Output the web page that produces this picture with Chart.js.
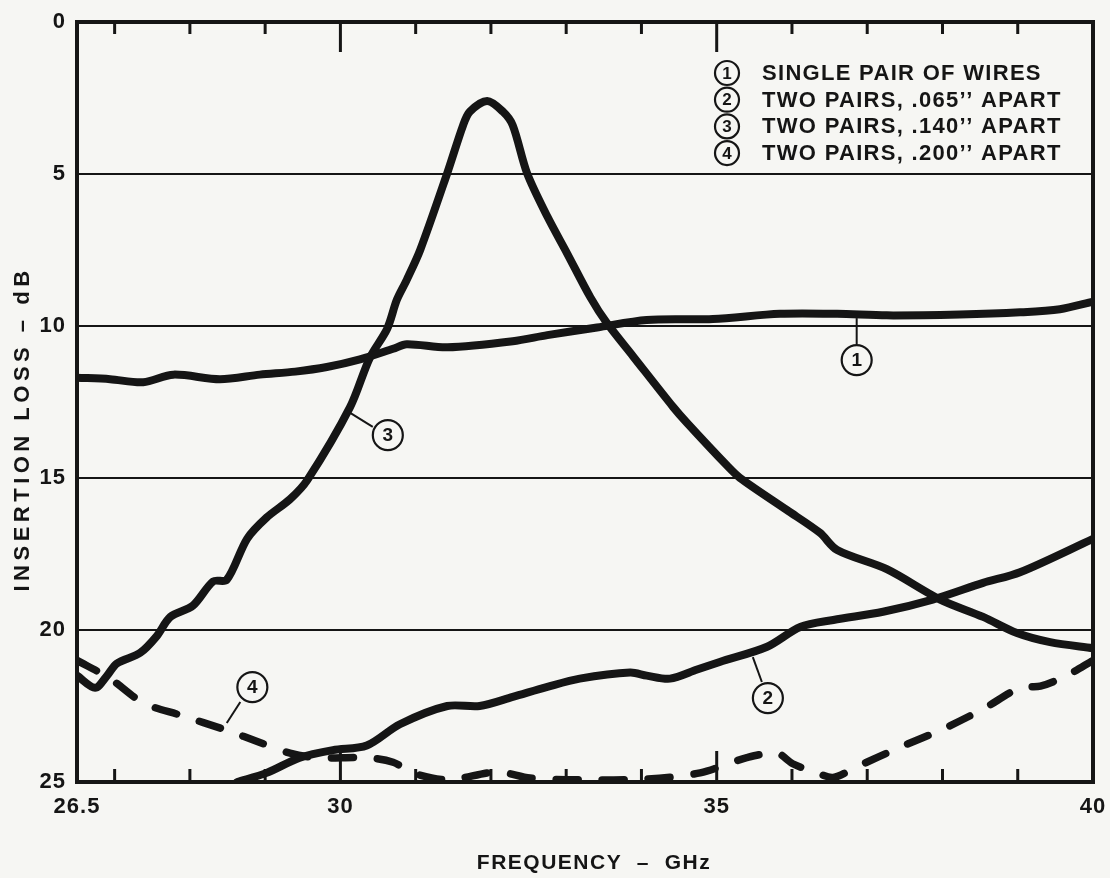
<!DOCTYPE html>
<html><head><meta charset="utf-8">
<script src="https://cdn.jsdelivr.net/npm/chart.js@4.4.1/dist/chart.umd.min.js"></script>
<style>html,body{margin:0;padding:0;background:#f6f6f3;} canvas{display:block;}</style>
</head><body>
<canvas id="c" width="1110" height="878"></canvas>
<script>
// ---- data ----
const freq1 = [26.5, 26.94, 27.38, 27.78, 28.4, 28.93, 29.4, 29.82, 30.26, 30.7, 30.88, 31.42, 32.29, 32.75, 33.41, 34.07, 34.95, 35.84, 36.6, 37.26, 38.23, 39.03, 39.56, 40];
const loss1 = [11.7, 11.75, 11.85, 11.6, 11.75, 11.6, 11.5, 11.35, 11.1, 10.75, 10.6, 10.7, 10.5, 10.3, 10.05, 9.8, 9.77, 9.6, 9.6, 9.65, 9.62, 9.55, 9.45, 9.2];

const freq2 = [28.63, 29.02, 29.46, 29.9, 30.35, 30.79, 31.42, 31.85, 32.29, 32.75, 33.18, 33.85, 34.07, 34.38, 34.74, 35.04, 35.67, 36.11, 36.55, 37.21, 37.87, 38.54, 39.03, 40];
const loss2 = [25.0, 24.7, 24.2, 23.95, 23.8, 23.1, 22.5, 22.5, 22.2, 21.87, 21.6, 21.4, 21.5, 21.6, 21.3, 21.05, 20.55, 19.9, 19.67, 19.4, 19.0, 18.45, 18.1, 17.0];

const freq3 = [26.5, 26.74, 26.9, 27.03, 27.34, 27.56, 27.74, 28.04, 28.31, 28.49, 28.76, 29.02, 29.33, 29.56, 30.13, 30.39, 30.62, 30.75, 30.88, 31.06, 31.42, 31.63, 31.72, 31.95, 32.16, 32.29, 32.48, 32.75, 33.01, 33.32, 33.54, 33.89, 34.42, 34.61, 35.14, 35.31, 35.93, 36.37, 36.6, 37.26, 37.97, 38.54, 38.99, 39.43, 40];
const loss3 = [21.5, 21.9, 21.5, 21.1, 20.75, 20.2, 19.57, 19.2, 18.4, 18.35, 17.0, 16.3, 15.7, 15.07, 12.66, 11.05, 10.1, 9.14, 8.49, 7.5, 4.97, 3.4, 2.95, 2.6, 2.95, 3.4, 4.97, 6.4, 7.6, 9.05, 9.9, 11.0, 12.66, 13.2, 14.6, 15.0, 16.05, 16.8, 17.37, 18.0, 19.0, 19.57, 20.1, 20.4, 20.6];

const freq4 = [26.5, 26.94, 27.38, 27.87, 28.49, 28.93, 29.33, 29.69, 30.35, 30.7, 30.96, 31.42, 32.08, 32.52, 33.18, 34.07, 34.78, 35.4, 35.8, 36.01, 36.33, 36.55, 36.86, 37.44, 37.97, 38.54, 39.03, 39.3, 39.65, 40];
const loss4 = [21.0, 21.6, 22.4, 22.8, 23.3, 23.7, 24.05, 24.2, 24.2, 24.35, 24.7, 24.93, 24.67, 24.87, 24.93, 24.9, 24.7, 24.2, 24.05, 24.4, 24.7, 24.85, 24.5, 23.85, 23.3, 22.6, 21.9, 21.85, 21.5, 21.0];

const xTickLabels = [26.5, 30, 35, 40];
const yTickLabels = [0, 5, 10, 15, 20, 25];
const xMinorTicks = [27, 28, 29, 31, 32, 33, 34, 36, 37, 38, 39];
const xMajorTicks = [30, 35];
const seriesNumbers = ['1', '2', '3', '4'];
const legendLabels = ['SINGLE PAIR OF WIRES', 'TWO PAIRS, .065\u2019\u2019 APART', 'TWO PAIRS, .140\u2019\u2019 APART', 'TWO PAIRS, .200\u2019\u2019 APART'];
const xTitle = 'FREQUENCY  \u2013  GHz';
const yTitle = 'INSERTION LOSS \u2013 dB';

// ---- styling ----
const INK = '#151515';
const BG = '#f6f6f3';
const FONT = '"Liberation Sans", Arial, Helvetica, sans-serif';

function pts(xs, ys) { return xs.map((x, i) => ({ x: x, y: ys[i] })); }

// callout positions (data coordinates): circle centre, leader line from->to
const callouts = [
  { n: '1', cx: 36.86, cy: 11.12, lx1: 36.86, ly1: 9.74, lx2: 36.86, ly2: 10.6 },
  { n: '2', cx: 35.68, cy: 22.24, lx1: 35.48, ly1: 20.89, lx2: 35.6, ly2: 21.71 },
  { n: '3', cx: 30.63, cy: 13.59, lx1: 30.13, ly1: 12.86, lx2: 30.43, ly2: 13.32 },
  { n: '4', cx: 28.83, cy: 21.88, lx1: 28.49, ly1: 23.06, lx2: 28.67, ly2: 22.37 }
];

function spaced(ctx, px) { if ('letterSpacing' in ctx) ctx.letterSpacing = px + 'px'; }

const framePlugin = {
  id: 'frame',
  beforeDraw(chart) {
    const ctx = chart.ctx;
    ctx.fillStyle = BG;
    ctx.fillRect(0, 0, chart.width, chart.height);
    spaced(ctx, 1); // tick label spacing
  },
  beforeDatasetsDraw(chart) {
    const { ctx, chartArea: a, scales: { x } } = chart;
    ctx.save();
    ctx.strokeStyle = INK;
    ctx.lineWidth = 3;
    const seg = (x1, y1, x2, y2) => { ctx.beginPath(); ctx.moveTo(x1, y1); ctx.lineTo(x2, y2); ctx.stroke(); };
    for (const v of xMinorTicks) {
      const px = x.getPixelForValue(v);
      seg(px, a.top, px, a.top + 12);
      seg(px, a.bottom, px, a.bottom - 13);
    }
    for (const v of xMajorTicks) {
      const px = x.getPixelForValue(v);
      seg(px, a.top, px, a.top + 30);
      seg(px, a.bottom, px, a.bottom - 31);
    }
    ctx.restore();
  },
  afterDatasetsDraw(chart) {
    const { ctx, chartArea: a, scales: { x, y } } = chart;
    ctx.save();
    ctx.strokeStyle = INK;
    ctx.lineWidth = 4;
    ctx.strokeRect(a.left, a.top, a.right - a.left, a.bottom - a.top);

    const circ = (cx, cy, r, label, fs) => {
      ctx.beginPath();
      ctx.arc(cx, cy, r, 0, Math.PI * 2);
      ctx.fillStyle = BG;
      ctx.fill();
      ctx.lineWidth = 2.2;
      ctx.strokeStyle = INK;
      ctx.stroke();
      ctx.fillStyle = INK;
      spaced(ctx, 0);
      ctx.font = 'bold ' + fs + 'px ' + FONT;
      ctx.textAlign = 'center';
      ctx.textBaseline = 'middle';
      ctx.fillText(label, cx, cy + 1);
    };
    // callouts
    for (const c of callouts) {
      ctx.lineWidth = 2;
      ctx.strokeStyle = INK;
      ctx.beginPath();
      ctx.moveTo(x.getPixelForValue(c.lx1), y.getPixelForValue(c.ly1));
      ctx.lineTo(x.getPixelForValue(c.lx2), y.getPixelForValue(c.ly2));
      ctx.stroke();
      circ(x.getPixelForValue(c.cx), y.getPixelForValue(c.cy), 15, c.n, 19);
    }
    // legend
    const lx = a.left + 650, tx = a.left + 685, ty0 = a.top + 51, dy = 26.7;
    legendLabels.forEach((t, i) => {
      const yy = ty0 + i * dy;
      circ(lx, yy, 12, seriesNumbers[i], 17);
      ctx.fillStyle = INK;
      spaced(ctx, 1.3);
      ctx.font = 'bold 22px ' + FONT;
      ctx.textAlign = 'left';
      ctx.textBaseline = 'middle';
      ctx.fillText(t, tx, yy + 1);
    });

    // axis titles
    ctx.fillStyle = INK;
    ctx.textAlign = 'center';
    ctx.textBaseline = 'middle';
    ctx.font = 'bold 21px ' + FONT;
    spaced(ctx, 1.5);
    ctx.fillText(xTitle, (a.left + a.right) / 2 + 9, 863);
    ctx.save();
    ctx.translate(23, (a.top + a.bottom) / 2 + 27);
    ctx.rotate(-Math.PI / 2);
    ctx.font = 'bold 22px ' + FONT;
    spaced(ctx, 4.5);
    ctx.fillText(yTitle, 0, 0);
    ctx.restore();
    ctx.restore();
  }
};

const solid = (data) => ({
  data: data, borderColor: INK, borderWidth: 8, pointRadius: 0, tension: 0.3,
  borderCapStyle: 'round', borderJoinStyle: 'round', fill: false
});

new Chart(document.getElementById('c'), {
  type: 'line',
  data: {
    datasets: [
      solid(pts(freq1, loss1)),
      solid(pts(freq2, loss2)),
      solid(pts(freq3, loss3)),
      Object.assign(solid(pts(freq4, loss4)), { borderDash: [22, 24], borderWidth: 7.5 })
    ]
  },
  options: {
    responsive: false,
    animation: false,
    events: [],
    layout: { padding: { top: 22, right: 17, left: 0, bottom: 0 } },
    plugins: { legend: { display: false }, tooltip: { enabled: false } },
    scales: {
      x: {
        type: 'linear', min: 26.5, max: 40,
        afterBuildTicks: (s) => { s.ticks = xTickLabels.map(v => ({ value: v })); },
        afterFit: (s) => { s.height = 96; s.paddingLeft = 0; s.paddingRight = 0; },
        grid: { display: false, drawTicks: false },
        border: { display: false },
        ticks: { color: INK, font: { family: FONT, size: 22, weight: 'bold' }, padding: 12, maxRotation: 0, autoSkip: false,
                 callback: (v) => String(v) },
        title: { display: false }
      },
      y: {
        type: 'linear', reverse: true, min: 0, max: 25,
        afterBuildTicks: (s) => { s.ticks = yTickLabels.map(v => ({ value: v })); },
        afterFit: (s) => { s.width = 77; s.paddingTop = 0; s.paddingBottom = 0; },
        grid: { drawTicks: false, lineWidth: 2, color: (c) => (c.tick && (c.tick.value === 0 || c.tick.value === 25)) ? 'rgba(0,0,0,0)' : INK },
        border: { display: false },
        ticks: { color: INK, font: { family: FONT, size: 22, weight: 'bold' }, padding: 11, callback: (v) => String(v) },
        title: { display: false }
      }
    }
  },
  plugins: [framePlugin]
});
</script>
</body></html>
